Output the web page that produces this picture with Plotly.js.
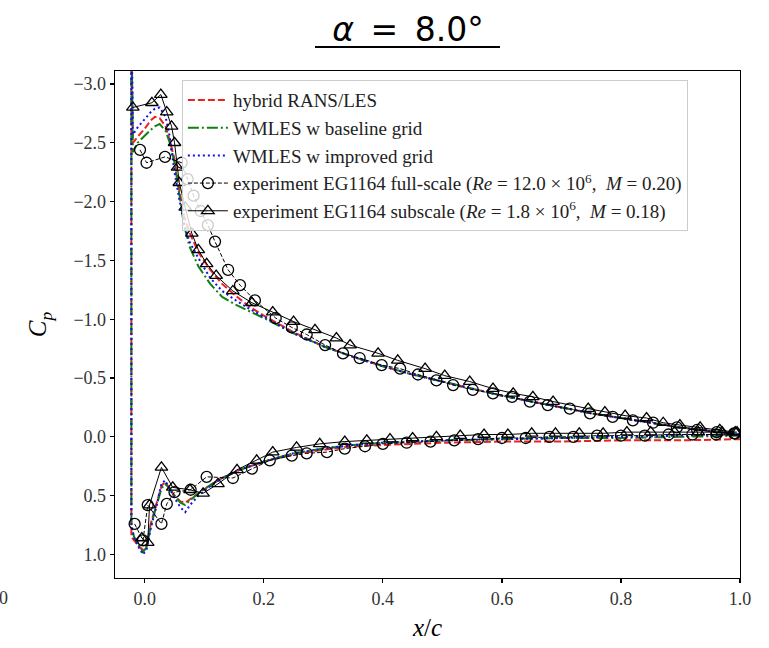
<!DOCTYPE html>
<html>
<head>
<meta charset="utf-8">
<script src="https://cdn.plot.ly/plotly-3.0.1.min.js"></script>
<style>
  html, body { margin: 0; padding: 0; background: #ffffff; }
  #chart { width: 769px; height: 648px; }
</style>
</head>
<body>
<div id="chart"></div>
<script>
// ---- Data ----
const seriesNames = [
  'hybrid RANS/LES',
  'WMLES w baseline grid',
  'WMLES w improved grid',
  'experiment EG1164 full-scale (<i>Re</i> = 12.0 × 10<sup>6</sup>,  <i>M</i> = 0.20)',
  'experiment EG1164 subscale (<i>Re</i> = 1.8 × 10<sup>6</sup>,  <i>M</i> = 0.18)'
];

// CFD, upper (suction) surface, leading edge -> trailing edge
const cfdUpperX = [-0.0225, -0.02, -0.012, 0.0, 0.01, 0.017, 0.025, 0.035, 0.042, 0.05, 0.058, 0.066, 0.075, 0.09, 0.11, 0.13, 0.15, 0.175, 0.2, 0.25, 0.3, 0.35, 0.4, 0.45, 0.5, 0.55, 0.6, 0.65, 0.7, 0.75, 0.8, 0.85, 0.9, 0.95, 1.0];
const ransUpperCp = [-3.6, -2.50, -2.55, -2.62, -2.69, -2.72, -2.71, -2.64, -2.52, -2.36, -2.10, -1.88, -1.74, -1.57, -1.42, -1.30, -1.21, -1.11, -1.03, -0.89, -0.77, -0.68, -0.60, -0.53, -0.47, -0.41, -0.35, -0.30, -0.25, -0.20, -0.16, -0.12, -0.08, -0.05, -0.02];
const wmlesBaseUpperCp = [-3.6, -2.42, -2.50, -2.56, -2.61, -2.64, -2.66, -2.60, -2.50, -2.33, -2.05, -1.80, -1.62, -1.45, -1.30, -1.19, -1.13, -1.07, -1.01, -0.88, -0.77, -0.68, -0.60, -0.53, -0.47, -0.41, -0.35, -0.30, -0.25, -0.20, -0.16, -0.12, -0.08, -0.05, -0.02];
const wmlesImpUpperCp = [-3.6, -2.57, -2.63, -2.70, -2.76, -2.79, -2.80, -2.72, -2.55, -2.25, -2.02, -1.82, -1.66, -1.52, -1.35, -1.24, -1.17, -1.09, -1.02, -0.88, -0.77, -0.68, -0.60, -0.53, -0.47, -0.41, -0.35, -0.30, -0.25, -0.20, -0.16, -0.12, -0.08, -0.05, -0.02];

// CFD, lower (pressure) surface, leading edge -> trailing edge
const cfdLowerX = [-0.0225, -0.018, -0.01, -0.003, 0.003, 0.01, 0.02, 0.028, 0.034, 0.042, 0.05, 0.06, 0.068, 0.076, 0.09, 0.11, 0.13, 0.16, 0.2, 0.25, 0.3, 0.35, 0.4, 0.5, 0.6, 0.7, 0.8, 0.9, 1.0];
const ransLowerCp = [0.85, 0.88, 0.93, 0.96, 0.92, 0.74, 0.56, 0.42, 0.38, 0.44, 0.50, 0.55, 0.56, 0.53, 0.48, 0.41, 0.35, 0.28, 0.21, 0.15, 0.11, 0.08, 0.07, 0.05, 0.04, 0.04, 0.03, 0.03, 0.02];
const wmlesBaseLowerCp = [0.76, 0.85, 0.92, 0.98, 0.94, 0.76, 0.58, 0.44, 0.40, 0.44, 0.50, 0.56, 0.58, 0.54, 0.48, 0.41, 0.35, 0.28, 0.21, 0.14, 0.10, 0.07, 0.05, 0.03, 0.02, 0.01, 0.01, 0.0, -0.01];
const wmlesImpLowerCp = [0.75, 0.86, 0.94, 1.00, 0.96, 0.78, 0.58, 0.40, 0.37, 0.45, 0.52, 0.60, 0.64, 0.58, 0.50, 0.42, 0.35, 0.28, 0.21, 0.14, 0.10, 0.07, 0.05, 0.03, 0.02, 0.01, 0.0, -0.01, -0.02];

// Experiment, full-scale
const expFullUpperX = [-0.008, 0.003, 0.034, 0.062, 0.072, 0.082, 0.094, 0.106, 0.118, 0.14, 0.16, 0.185, 0.22, 0.247, 0.272, 0.303, 0.333, 0.361, 0.398, 0.429, 0.459, 0.49, 0.518, 0.551, 0.585, 0.617, 0.647, 0.677, 0.714, 0.748, 0.786, 0.82, 0.854, 0.894, 0.928, 0.961, 0.992];
const expFullUpperCp = [-2.44, -2.33, -2.38, -2.33, -2.19, -2.05, -1.92, -1.80, -1.66, -1.42, -1.29, -1.16, -1.01, -0.93, -0.87, -0.78, -0.71, -0.67, -0.61, -0.58, -0.53, -0.48, -0.44, -0.40, -0.37, -0.34, -0.30, -0.27, -0.24, -0.20, -0.17, -0.14, -0.12, -0.08, -0.06, -0.04, -0.03];
const expFullLowerX = [-0.017, -0.003, 0.005, 0.028, 0.037, 0.050, 0.077, 0.104, 0.148, 0.18, 0.21, 0.247, 0.272, 0.306, 0.336, 0.37, 0.4, 0.44, 0.48, 0.52, 0.56, 0.6, 0.64, 0.68, 0.72, 0.76, 0.8, 0.84, 0.88, 0.92, 0.96, 0.99];
const expFullLowerCp = [0.74, 0.88, 0.58, 0.74, 0.57, 0.47, 0.45, 0.34, 0.35, 0.27, 0.20, 0.16, 0.14, 0.13, 0.10, 0.08, 0.06, 0.05, 0.04, 0.03, 0.02, 0.01, 0.01, 0.0, 0.0, -0.01, -0.01, -0.01, -0.02, -0.02, -0.02, -0.03];

// Experiment, subscale
const expSubUpperX = [-0.02, 0.012, 0.027, 0.037, 0.045, 0.05, 0.055, 0.058, 0.068, 0.079, 0.09, 0.104, 0.12, 0.148, 0.18, 0.215, 0.25, 0.286, 0.322, 0.345, 0.392, 0.425, 0.471, 0.504, 0.546, 0.585, 0.619, 0.652, 0.686, 0.745, 0.773, 0.807, 0.843, 0.871, 0.899, 0.933, 0.966, 0.992];
const expSubUpperCp = [-2.80, -2.84, -2.91, -2.76, -2.64, -2.50, -2.29, -2.16, -1.95, -1.73, -1.59, -1.47, -1.37, -1.24, -1.14, -1.06, -0.98, -0.91, -0.84, -0.78, -0.71, -0.65, -0.58, -0.52, -0.47, -0.41, -0.37, -0.34, -0.30, -0.24, -0.21, -0.18, -0.16, -0.12, -0.10, -0.08, -0.06, -0.04];
const expSubLowerX = [-0.005, 0.005, 0.008, 0.028, 0.047, 0.076, 0.098, 0.123, 0.155, 0.188, 0.215, 0.255, 0.294, 0.336, 0.373, 0.412, 0.45, 0.49, 0.53, 0.57, 0.61, 0.65, 0.69, 0.73, 0.77, 0.81, 0.85, 0.89, 0.93, 0.97, 0.995];
const expSubLowerCp = [0.86, 0.90, 0.58, 0.26, 0.43, 0.45, 0.48, 0.40, 0.28, 0.20, 0.13, 0.09, 0.06, 0.04, 0.03, 0.02, 0.01, 0.0, -0.01, -0.02, -0.02, -0.03, -0.03, -0.03, -0.03, -0.04, -0.04, -0.04, -0.04, -0.04, -0.04];

const xTickVals = [0.0, 0.2, 0.4, 0.6, 0.8, 1.0];
const yTickVals = [-3.0, -2.5, -2.0, -1.5, -1.0, -0.5, 0.0, 0.5, 1.0];

// ---- Helpers: go round the airfoil (TE -> LE on upper, LE -> TE on lower) ----
function aroundCFD(ux, ucp, lx, lcp) {
  return { x: ux.slice().reverse().concat(lx), y: ucp.slice().reverse().concat(lcp) };
}
function splitExp(ux, ucp, lx, lcp) {
  return { x: ux.concat([null], lx), y: ucp.concat([null], lcp) };
}

const serif = 'Liberation Serif, Times New Roman, serif';
const rans = aroundCFD(cfdUpperX, ransUpperCp, cfdLowerX, ransLowerCp);
const wbase = aroundCFD(cfdUpperX, wmlesBaseUpperCp, cfdLowerX, wmlesBaseLowerCp);
const wimp = aroundCFD(cfdUpperX, wmlesImpUpperCp, cfdLowerX, wmlesImpLowerCp);
const efull = splitExp(expFullUpperX, expFullUpperCp, expFullLowerX, expFullLowerCp);
const esub = splitExp(expSubUpperX, expSubUpperCp, expSubLowerX, expSubLowerCp);

const traces = [
  { x: rans.x, y: rans.y, name: seriesNames[0], mode: 'lines', type: 'scatter',
    line: { color: '#f02020', width: 2, dash: '7px,3px' } },
  { x: wbase.x, y: wbase.y, name: seriesNames[1], mode: 'lines', type: 'scatter',
    line: { color: '#108010', width: 2, dash: '11px,3px,2px,3px' } },
  { x: wimp.x, y: wimp.y, name: seriesNames[2], mode: 'lines', type: 'scatter',
    line: { color: '#1010f0', width: 2, dash: '2px,3px' } },
  { x: efull.x, y: efull.y, name: seriesNames[3], mode: 'lines+markers', type: 'scatter',
    connectgaps: false,
    line: { color: '#000000', width: 1, dash: '4px,2px' },
    marker: { symbol: 'circle-open', size: 11, color: '#000000', line: { width: 1.3, color: '#000000' } } },
  { x: esub.x, y: esub.y, name: seriesNames[4], mode: 'lines+markers', type: 'scatter',
    connectgaps: false,
    line: { color: '#000000', width: 1 },
    marker: { symbol: 'triangle-up-open', size: 11, color: '#000000', line: { width: 1.3, color: '#000000' } } }
];

const layout = {
  width: 769, height: 648,
  paper_bgcolor: '#ffffff', plot_bgcolor: '#ffffff',
  margin: { l: 115, r: 29, t: 71, b: 70 },
  showlegend: true,
  title: {
    text: '<i>α</i>\u2002=\u20028.0°',
    font: { family: 'DejaVu Sans, sans-serif', size: 33, color: '#000000' },
    x: 408 / 769, xref: 'container', xanchor: 'center',
    y: 1 - 29 / 648, yref: 'container', yanchor: 'middle'
  },
  xaxis: {
    range: [-0.05, 1.0], autorange: false,
    tickvals: xTickVals, tickformat: '.1f',
    ticks: 'outside', ticklen: 4, tickwidth: 1.2, tickcolor: '#000000',
    showline: true, mirror: true, linecolor: '#000000', linewidth: 1.3,
    showgrid: false, zeroline: false,
    tickfont: { family: serif, size: 18, color: '#333333' },
    title: { text: '<i>x</i>/<i>c</i>', font: { family: serif, size: 25, color: '#000000' }, standoff: 10 }
  },
  yaxis: {
    range: [1.2, -3.11], autorange: false,
    tickvals: yTickVals, tickformat: '.1f',
    ticks: 'outside', ticklen: 4, tickwidth: 1.2, tickcolor: '#000000',
    showline: true, mirror: true, linecolor: '#000000', linewidth: 1.3,
    showgrid: false, zeroline: false,
    tickfont: { family: serif, size: 18, color: '#333333' },
    title: { text: '<i>C</i><sub><i>p</i></sub>', font: { family: serif, size: 25, color: '#000000' }, standoff: 19 }
  },
  legend: {
    x: 0.107, y: 0.982, xanchor: 'left', yanchor: 'top',
    bgcolor: 'rgba(255,255,255,0.8)', bordercolor: '#cccccc', borderwidth: 1,
    font: { family: serif, size: 19, color: '#222222' },
    itemwidth: 40, traceorder: 'normal'
  },
  shapes: [
    { type: 'line', xref: 'paper', yref: 'paper', x0: 0.32, x1: 0.616, y0: 1.0474, y1: 1.0474,
      line: { color: '#000000', width: 2 } }
  ],
  annotations: [
    { text: '0', xref: 'paper', yref: 'paper', x: -0.178, y: -0.04, xanchor: 'center', yanchor: 'middle',
      showarrow: false, font: { family: serif, size: 18, color: '#333333' } }
  ]
};

Plotly.newPlot('chart', traces, layout, { staticPlot: true, displayModeBar: false });
</script>
</body>
</html>
